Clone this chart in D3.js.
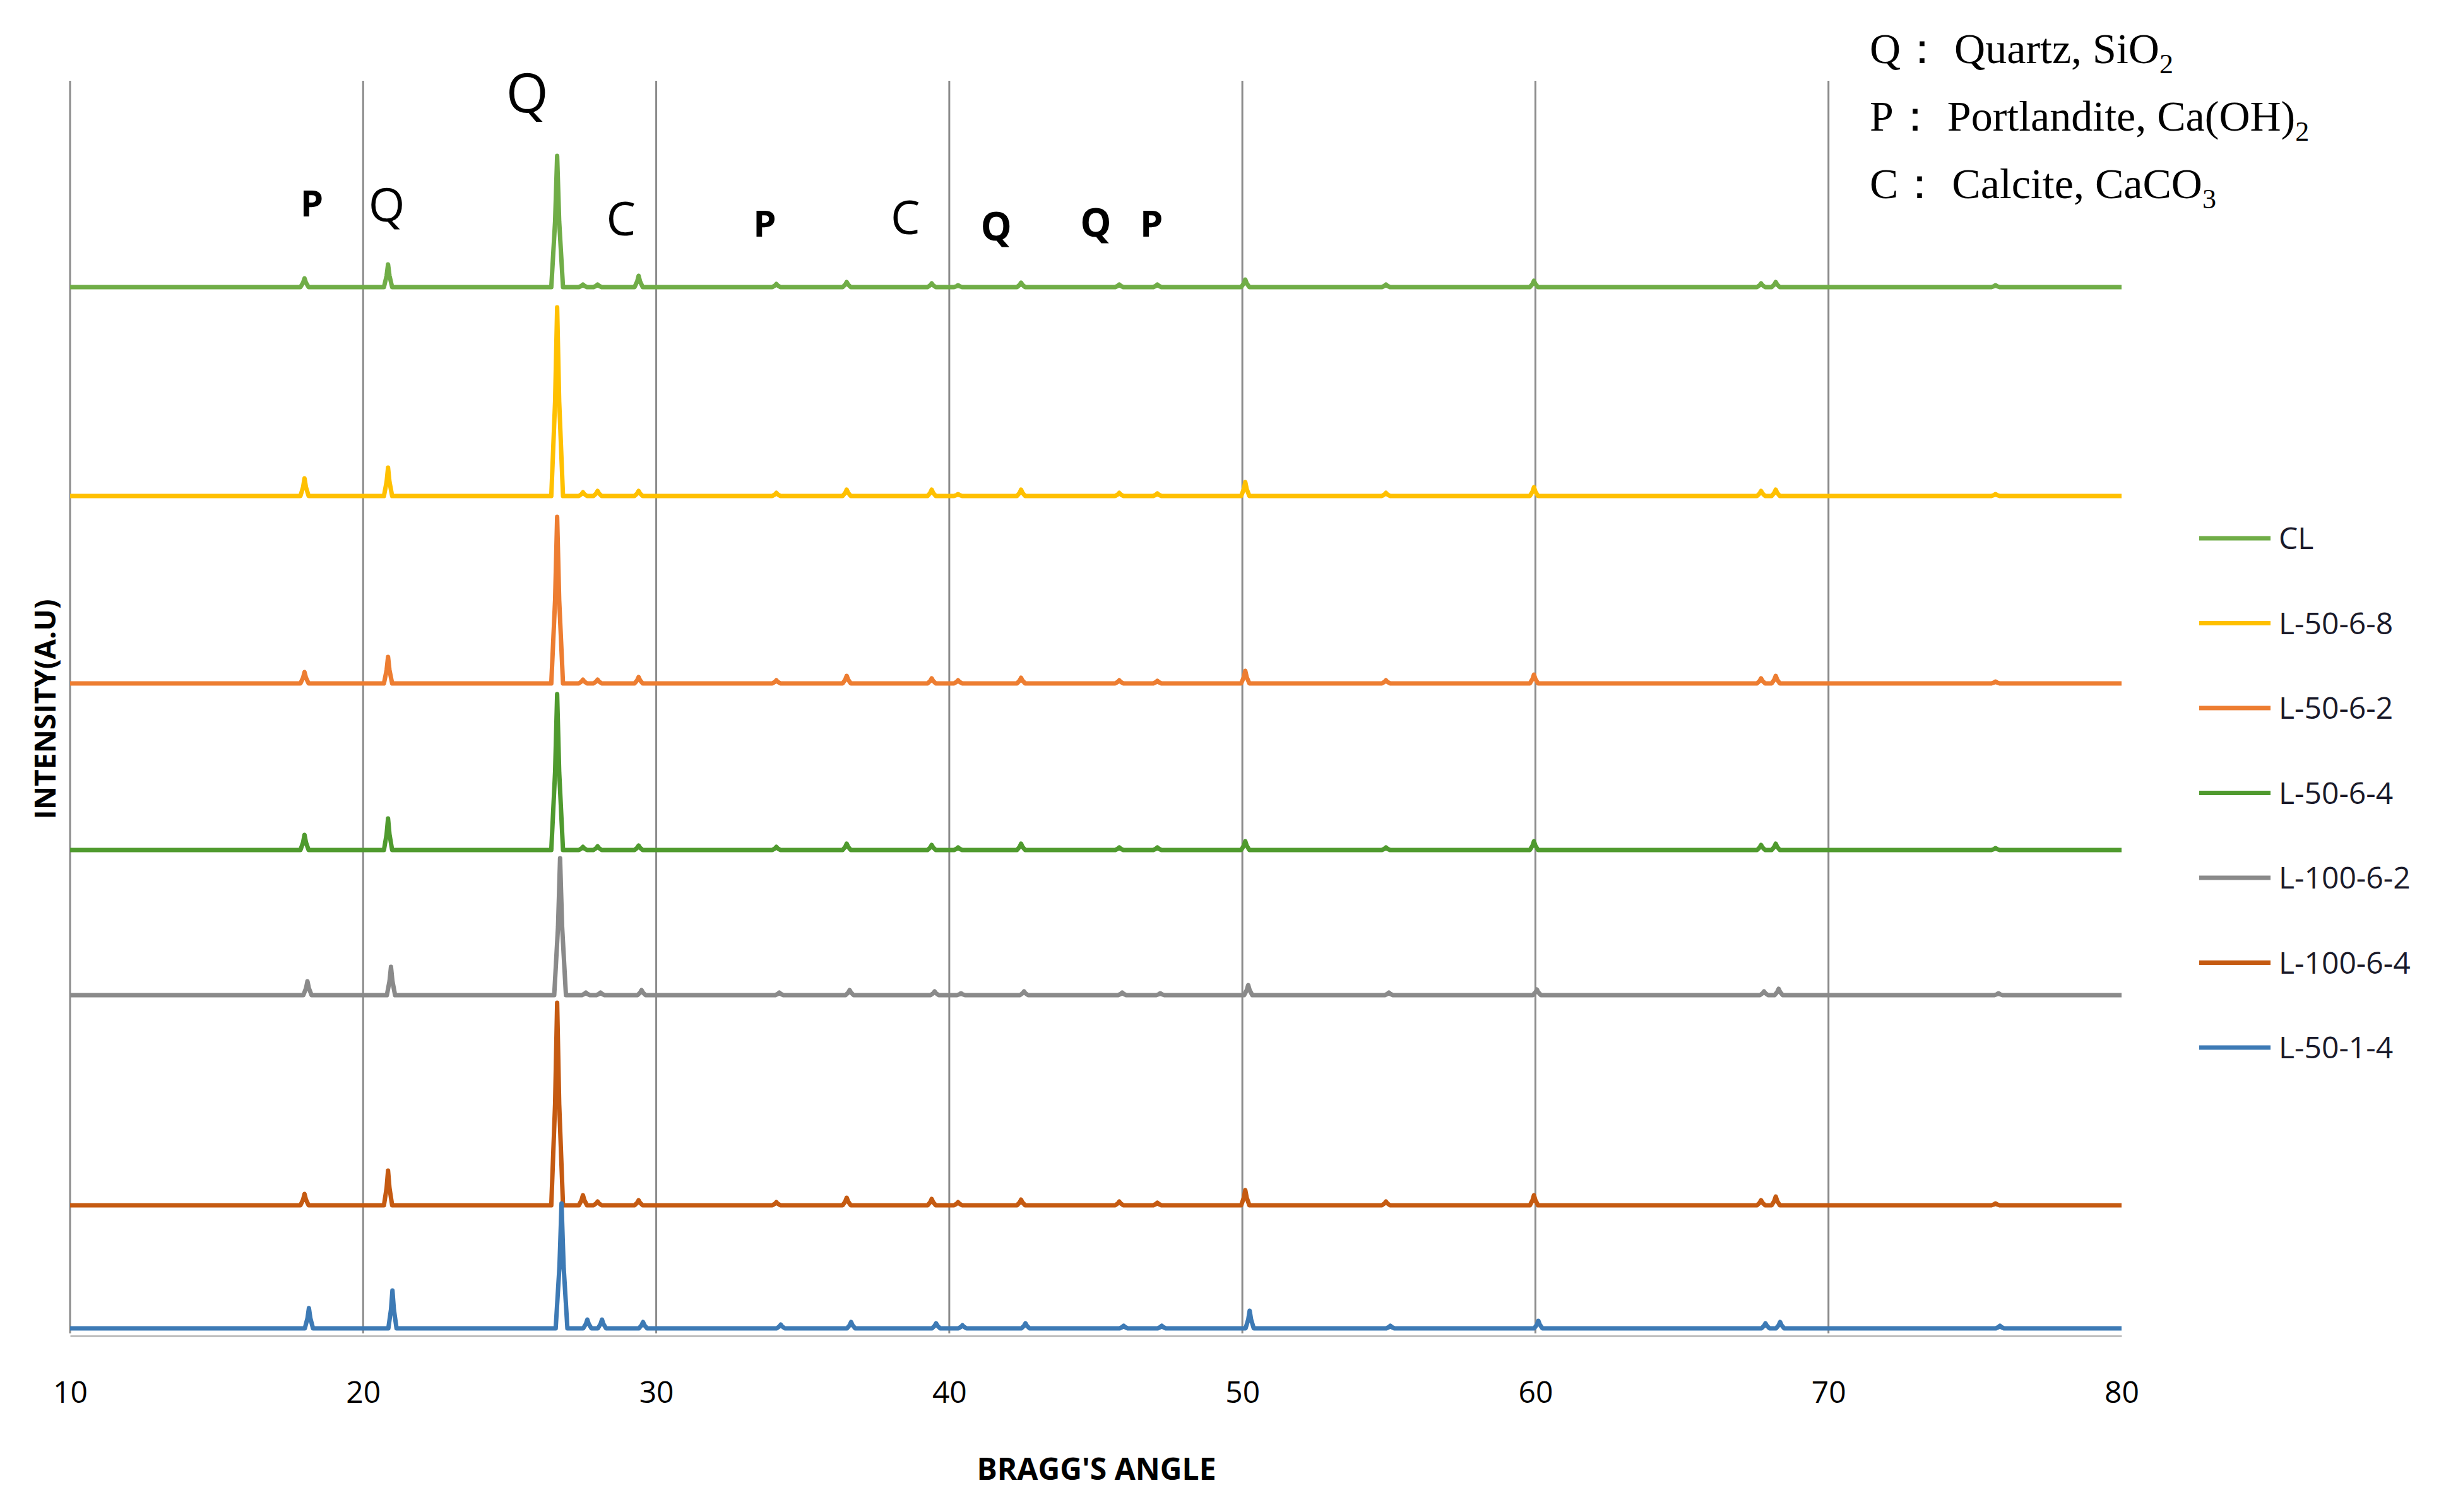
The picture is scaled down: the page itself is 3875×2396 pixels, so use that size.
<!DOCTYPE html>
<html><head><meta charset="utf-8">
<script src="https://cdn.jsdelivr.net/npm/d3@7"></script>
<style>body{margin:0;background:#fff}</style></head>
<body><svg id="c" width="3875" height="2396"></svg>
<script>
const seriesNames = ["CL","L-50-6-8","L-50-6-2","L-50-6-4","L-100-6-2","L-100-6-4","L-50-1-4"];
const seriesColors = ["#70ad47","#ffc000","#ed7d31","#4f9a2e","#8a8a8a","#c55a11","#3d7ab5"];
const seriesOffsets = [1658,1327,1030,766,536,203,8];
const peakAngles = [18.0,20.85,26.62,27.5,28.0,29.4,34.1,36.5,39.4,40.3,42.45,45.8,47.1,50.1,54.9,59.95,67.7,68.2,75.7];
const peakHeights = [
 [14,36,208,4,4,18,5,8,6,3,7,4,4,12,4,10,6,8,3],
 [28,45,299,6,8,8,5,10,10,3,10,5,4,22,5,14,8,10,3],
 [18,42,264,6,6,10,5,12,8,5,9,5,4,20,5,14,8,12,3],
 [24,50,247,5,6,7,5,10,8,4,10,4,4,14,4,14,8,10,3],
 [22,45,217,4,4,8,4,8,6,3,6,4,3,16,4,9,6,10,3],
 [18,55,321,16,6,8,5,12,10,5,9,6,4,24,6,16,8,14,3],
 [32,60,198,14,14,10,6,10,8,5,8,4,4,28,4,12,8,10,4]];
const peakShift = [0,0,0,0,0.1,0,0.15];
const xTicks = [10,20,30,40,50,60,70,80];
const phaseLabels = ["P","Q","Q","C","P","C","Q","Q","P"];
const phaseAngles = [18.25,20.8,25.6,28.8,33.7,38.5,41.6,45.0,46.9];
const phaseHeights = [1770,1762,1935,1740,1738,1742,1732,1738,1738];
const phaseSizes = [58,74,86,74,58,74,62,62,58];
const phaseBold = [true,false,false,false,true,false,true,true,true];

const svg = d3.select("#c");
const x = d3.scaleLinear().domain([10,80]).range([111,3361]);
const y = d3.scaleLinear().domain([0,1985]).range([2113,128]);

svg.append("g").selectAll("line").data(xTicks.filter(t=>t<80)).join("line")
  .attr("x1",d=>x(d)).attr("x2",d=>x(d)).attr("y1",y(1985)).attr("y2",y(0))
  .attr("stroke","#8c8c8c").attr("stroke-width",3);

const line = d3.line().x(d=>x(d[0])).y(d=>y(d[1]));
seriesNames.forEach((n,i)=>{
  const off = seriesOffsets[i], sh = peakShift[i];
  const pts = [[10,off]];
  peakAngles.forEach((a,j)=>{
    const c = a+sh, h = peakHeights[i][j], w = j===2?0.2:0.14;
    pts.push([c-w,off],[c-w*0.35,off+h*0.5],[c,off+h],[c+w*0.35,off+h*0.5],[c+w,off]);
  });
  pts.push([80,off]);
  svg.append("path").datum(pts).attr("d",line).attr("fill","none")
    .attr("stroke",seriesColors[i]).attr("stroke-width",7).attr("stroke-linejoin","round");
});

const ax = svg.append("g").attr("transform",`translate(0,${y(0)+4})`)
  .call(d3.axisBottom(x).tickValues(xTicks).tickSize(0).tickPadding(72));
ax.select(".domain").attr("stroke","#bfbfbf").attr("stroke-width",3);
ax.selectAll("text").attr("font-family","Open Sans, sans-serif").attr("font-size",48).attr("fill","#000");

svg.append("text").attr("x",1737).attr("y",2345).attr("text-anchor","middle")
  .attr("font-family","Open Sans, sans-serif").attr("font-weight","bold").attr("font-size",48).text("BRAGG'S ANGLE");
svg.append("text").attr("transform","translate(88,1124) rotate(-90)").attr("text-anchor","middle")
  .attr("font-family","Open Sans, sans-serif").attr("font-weight","bold").attr("font-size",46).text("INTENSITY(A.U)");

svg.append("g").selectAll("text").data(phaseLabels).join("text")
  .attr("x",(d,i)=>x(phaseAngles[i])).attr("y",(d,i)=>y(phaseHeights[i]))
  .attr("text-anchor","middle").attr("font-family","Open Sans, sans-serif")
  .attr("font-size",(d,i)=>phaseSizes[i]).attr("font-weight",(d,i)=>phaseBold[i]?"bold":"normal").text(d=>d);

const fl = [["Q\uFF1A Quartz, SiO","2"],["P\uFF1A Portlandite, Ca(OH)","2"],["C\uFF1A Calcite, CaCO","3"]];
fl.forEach((f,i)=>{
  const t = svg.append("text").attr("x",2962).attr("y",100+i*107)
    .attr("font-family","Liberation Serif, serif").attr("font-size",68);
  t.append("tspan").text(f[0]);
  t.append("tspan").attr("dy",16).attr("font-size",44).text(f[1]);
});

const lg = svg.append("g");
seriesNames.forEach((n,i)=>{
  const yy = 853+i*134.5;
  lg.append("line").attr("x1",3484).attr("x2",3597).attr("y1",yy).attr("y2",yy)
    .attr("stroke",seriesColors[i]).attr("stroke-width",7);
  lg.append("text").attr("x",3610).attr("y",yy+17).attr("font-family","Open Sans, sans-serif")
    .attr("font-size",48).attr("fill","#1a1a2a").text(n);
});
</script></body></html>
